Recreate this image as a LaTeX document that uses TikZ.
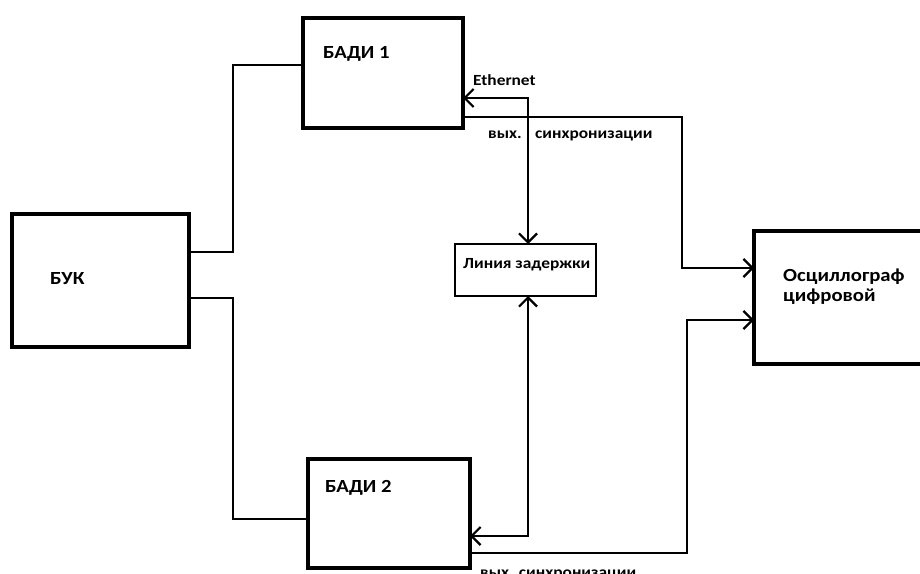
\documentclass[tikz,border=0pt]{standalone}
\usepackage{fontspec}
\setmainfont{Carlito}[FakeStretch=1.12]
\usetikzlibrary{arrows.meta}
\begin{document}
\begin{tikzpicture}[x=1pt,y=1pt,
  blk/.style={draw, line width=4pt, rectangle, inner sep=0pt, outer sep=0pt, anchor=north west},
  thinblk/.style={blk, line width=2.6pt},
  conn/.style={line width=2.2pt},
  tip/.style={line width=2.2pt, -{Straight Barb[length=9pt,width=18pt,line width=2.2pt]}},
  both/.style={line width=2.2pt, {Straight Barb[length=9pt,width=18pt,line width=2.2pt]}-{Straight Barb[length=9pt,width=18pt,line width=2.2pt]}},
  big/.style={font=\fontsize{18.5}{20}\selectfont\bfseries, inner sep=0pt, anchor=base west},
  small/.style={font=\fontsize{15.5}{17}\selectfont\bfseries, inner sep=0pt, anchor=base west}]
\useasboundingbox (0,0) rectangle (920,-573);
\fill[white] (0,0) rectangle (920,-573);

% blocks
\node[blk, minimum width=177pt, minimum height=133pt] (buk) at (12,-214) {};
\node[blk, minimum width=160pt, minimum height=110pt] (b1) at (303,-18) {};
\node[blk, minimum width=162pt, minimum height=109pt] (b2) at (308,-459) {};
\node[thinblk, minimum width=141pt, minimum height=52pt] (del) at (455,-244) {};
\node[blk, minimum width=185pt, minimum height=133pt] (osc) at (754,-231) {};

% texts
\node[big] (tbuk) at (50,-284) {БУК};
\node[big] (tb1) at (323,-58) {БАДИ 1};
\node[big] (tb2) at (325,-492) {БАДИ 2};
\node[big] (tosc1) at (783,-281) {Осциллограф};
\node[big] (tosc2) at (783,-301) {цифровой};
\node[small] (tdel) at (463,-268) {Линия задержки};
\node[small] (teth) at (473,-85) {Ethernet};
\node[small] (tv1) at (488,-138) {вых.};
\node[small] (ts1) at (535,-138) {синхронизации};
\node[small] (tv2) at (480,-577) {вых. синхронизации};

% connectors from БУК
\draw[conn] (buk.east |- 0,-252) -- (233,-252) -- (233,-65) -- (b1.west |- 0,-65);
\draw[conn] (buk.east |- 0,-298) -- (233,-298) -- (233,-519) -- (b2.west |- 0,-519);

% Ethernet links via delay line
\draw[both] (b1.east |- 0,-98) -- (528,-98) -- (del.north -| 528,0);
\draw[both] (del.south -| 528,0) -- (528,-536) -- (b2.east |- 0,-536);

% sync outputs to oscilloscope
\draw[tip] (b1.east |- 0,-117) -- (682,-117) -- (682,-268) -- (osc.west |- 0,-268);
\draw[tip] (b2.east |- 0,-553) -- (687,-553) -- (687,-320) -- (osc.west |- 0,-320);
\end{tikzpicture}
\end{document}
